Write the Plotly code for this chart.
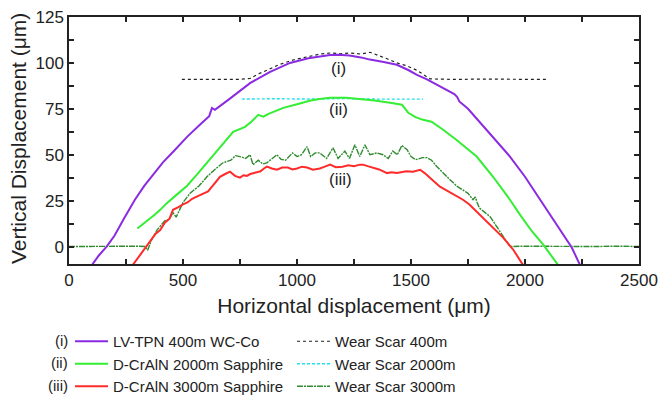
import plotly.graph_objects as go

# ---------------- data (µm) ----------------
lv_x = [101, 130, 165, 200, 240, 289, 330, 380, 413, 460, 520, 580, 615, 627, 640, 700, 794, 880, 969,
        1050, 1100, 1145, 1180, 1230, 1280, 1320, 1380, 1438, 1490, 1526, 1570, 1614, 1660, 1690, 1702,
        1712, 1750, 1803, 1870, 1934, 2000, 2066, 2110, 2154, 2205, 2241]
lv_y = [-10, -5, 0, 6, 15, 25.5, 33, 41, 46, 52, 60, 67, 71, 75.5, 74.5, 80, 89, 95, 100,
        102.5, 103.5, 104.3, 104.5, 104, 103, 101.8, 100.5, 99, 96, 93.5, 91, 88, 85, 83, 81.5,
        79, 75, 67.4, 58, 49, 38, 25.5, 17, 9.2, -0.5, -10]

c2_x = [300, 340, 377, 400, 428, 470, 517, 560, 605, 648, 720, 772, 800, 830, 852, 880, 940, 1000, 1060,
        1100, 1145, 1217, 1280, 1340, 1408, 1460, 1475, 1488, 1520, 1553, 1590, 1641, 1700, 1750, 1788,
        1860, 1934, 1980, 2031, 2080, 2110, 2145]
c2_y = [9.8, 13.5, 17.4, 20, 23.5, 28, 33, 39, 45.6, 52, 62.5, 65.2, 68, 71.7, 70.7, 72.5, 75.5, 77.5, 79.5,
        80.3, 81, 81, 80.3, 79.5, 78.3, 77.2, 75, 72.8, 70.5, 69, 68, 63.6, 58, 53, 49,
        38, 25.5, 17, 8.2, 1, -4, -10]

c3_x = [280, 310, 342, 360, 380, 400, 420, 440, 456, 480, 500, 520, 540, 565, 588, 610, 630, 650, 662, 685,
        706, 728, 750, 765, 780, 795, 807, 825, 840, 855, 868, 890, 912, 935, 960, 980, 1000, 1022, 1044,
        1070, 1100, 1122, 1145, 1170, 1200, 1225, 1250, 1276, 1290, 1310, 1330, 1360, 1395, 1415, 1438,
        1460, 1480, 1509, 1540, 1560, 1580, 1600, 1627, 1650, 1680, 1705, 1728, 1755, 1780, 1805, 1833,
        1850, 1870, 1904, 1930, 1950, 1991]
c3_y = [-10, -5, 0, 3.5, 7, 9, 13, 15, 20, 21.5, 23, 24, 26, 27.5, 29, 30, 33, 36, 38, 39.5,
        40.8, 38.5, 37.5, 38.8, 38.5, 39.5, 40, 40.5, 41, 42.5, 43.5, 42.5, 41.8, 43, 43, 42, 42.5, 43.5, 43,
        41.8, 42.5, 43.5, 44.6, 43.2, 43.5, 44.2, 43.8, 44.6, 44.6, 43.8, 43, 42, 40, 40.5, 40,
        40.6, 41, 40.8, 41.8, 40, 38, 35.5, 32.6, 31, 29, 27.5, 25.5, 23, 20, 16.5, 13.6,
        11.5, 9, 4.9, 1, -2, -10]

ws400_x = [495, 560, 620, 680, 740, 794, 830, 868, 920, 983, 1050, 1100, 1145, 1190, 1232, 1280, 1320,
           1360, 1400, 1438, 1480, 1526, 1560, 1583, 1620, 1700, 1800, 1900, 2000, 2101]
ws400_y = [91, 91, 91.2, 91, 91, 91.5, 94, 96, 99, 101.6, 103.5, 104.8, 105.4, 105, 105.4, 104.8, 105.8,
           104, 102, 100, 98.5, 96, 93, 91.3, 91.2, 91, 91.2, 91, 91.2, 91]

ws2000_x = [758, 900, 1050, 1200, 1350, 1553]
ws2000_y = [80.3, 80.5, 80.3, 80.6, 80.3, 80.3]

ws3000_x = [0, 100, 200, 300, 333, 345, 360, 386, 420, 440, 456, 470, 500, 531, 570, 605, 640, 675, 710,
            730, 750, 775, 794, 807, 830, 850, 868, 890, 912, 930, 950, 980, 1000, 1020, 1044, 1060, 1080,
            1100, 1130, 1158, 1180, 1210, 1230, 1254, 1275, 1298, 1320, 1350, 1377, 1400, 1420, 1440, 1460,
            1483, 1500, 1520, 1550, 1570, 1590, 1614, 1640, 1671, 1700, 1728, 1750, 1772, 1782, 1790, 1800,
            1820, 1847, 1870, 1904, 1920, 1934, 2000, 2100, 2200, 2300, 2400, 2500]
ws3000_y = [0, 0.2, 0, 0.2, 0, -2, 3, 9, 14, 15, 18.5, 16, 24, 29, 33, 38, 42, 45.6, 47,
            49.5, 49, 48, 50, 44.6, 47, 45, 45.6, 48, 50, 47.5, 47, 51, 49, 50, 54.4, 49, 51,
            51, 48, 53.8, 48, 52, 48, 55.4, 49, 55.4, 50, 51, 50, 48, 52, 50, 55,
            52.7, 49, 47.3, 48.4, 48.4, 47, 43.5, 40, 36.4, 33, 31, 29, 25.5, 27, 24, 21,
            19, 16.3, 12, 5.4, 2, 0, 0.2, 0, 0.2, 0, 0.2, 0]

labels_curve = ["(i)", "(ii)", "(iii)"]
label_x = [1180, 1180, 1190]
label_y = [97, 74.5, 36.5]

FONT = "Liberation Sans, Arial, sans-serif"
W, H = 661.0, 399.0
ML, MR, MT, MB = 69, 22, 17, 135
PW, PH = W - ML - MR, H - MT - MB

fig = go.Figure()

fig.add_trace(go.Scatter(x=ws400_x, y=ws400_y, mode="lines", name="Wear Scar 400m",
                         line=dict(color="#222222", width=1.2, dash="dot"), legend="legend2"))
fig.add_trace(go.Scatter(x=ws2000_x, y=ws2000_y, mode="lines", name="Wear Scar 2000m",
                         line=dict(color="#22e0f0", width=1.4, dash="3px,2px"), legend="legend2"))
fig.add_trace(go.Scatter(x=ws3000_x, y=ws3000_y, mode="lines", name="Wear Scar 3000m",
                         line=dict(color="#2e8b2e", width=1.4, dash="6px,1px,2px,1px"), legend="legend2"))
fig.add_trace(go.Scatter(x=lv_x, y=lv_y, mode="lines", name="LV-TPN 400m WC-Co",
                         line=dict(color="#8a2be2", width=2), legend="legend"))
fig.add_trace(go.Scatter(x=c2_x, y=c2_y, mode="lines", name="D-CrAlN 2000m Sapphire",
                         line=dict(color="#33ee33", width=2), legend="legend"))
fig.add_trace(go.Scatter(x=c3_x, y=c3_y, mode="lines", name="D-CrAlN 3000m Sapphire",
                         line=dict(color="#ff2a2a", width=2), legend="legend"))

annotations = []
for t, ax_, ay_ in zip(labels_curve, label_x, label_y):
    annotations.append(dict(x=ax_, y=ay_, xref="x", yref="y", text=t, showarrow=False,
                            font=dict(family=FONT, size=17, color="#222")))

# legend prefixes (row centres in px: 340, 362.5, 385)
for t, py in zip(labels_curve, [340, 362.5, 385]):
    annotations.append(dict(x=(70 - ML) / PW, y=(H - MB - py) / PH, xref="paper", yref="paper",
                            text=t, showarrow=False, xanchor="right", yanchor="middle",
                            font=dict(family=FONT, size=15, color="#222")))

# y-axis title (placed as rotated text left of the tick labels)
annotations.append(dict(x=(18 - ML) / PW, y=(H - MB - 139) / PH, xref="paper", yref="paper",
                        text="Vertical Displacement (μm)", textangle=-90, showarrow=False,
                        xanchor="center", yanchor="middle",
                        font=dict(family=FONT, size=21, color="#222")))

legend_common = dict(orientation="v", yanchor="top", xanchor="left", bgcolor="rgba(0,0,0,0)",
                     borderwidth=0, itemwidth=33, tracegroupgap=0, xref="container", yref="container",
                     font=dict(family=FONT, size=15, color="#222"))

fig.update_layout(
    width=661, height=399,
    margin=dict(l=ML, r=MR, t=MT, b=MB, autoexpand=False),
    paper_bgcolor="white", plot_bgcolor="white",
    font=dict(family=FONT, color="#222"),
    showlegend=True,
    legend=dict(x=70 / W, y=1 - 325 / H, **legend_common),
    legend2=dict(x=292 / W, y=1 - 325 / H, **legend_common),
    annotations=annotations,
)

fig.update_xaxes(
    range=[0, 2500], tickvals=[0, 500, 1000, 1500, 2000, 2500],
    ticks="inside", ticklen=5, tickwidth=1.5, tickcolor="#222",
    minor=dict(ticks="inside", ticklen=5, dtick=250, tickwidth=1.5, tickcolor="#222"),
    showline=True, linecolor="#222", linewidth=1.5, mirror="ticks",
    showgrid=False, zeroline=False,
    tickfont=dict(family=FONT, size=17, color="#222"),
    title=dict(text="Horizontal displacement (μm)", font=dict(family=FONT, size=21, color="#222"), standoff=9),
)
fig.update_yaxes(
    range=[-9.5, 125], tickvals=[0, 25, 50, 75, 100, 125],
    ticks="inside", ticklen=5, tickwidth=1.5, tickcolor="#222",
    minor=dict(ticks="inside", ticklen=5, dtick=12.5, tickwidth=1.5, tickcolor="#222"),
    showline=True, linecolor="#222", linewidth=1.5, mirror="ticks",
    showgrid=False, zeroline=False,
    tickfont=dict(family=FONT, size=17, color="#222"),
)

fig.write_html("out.html")
